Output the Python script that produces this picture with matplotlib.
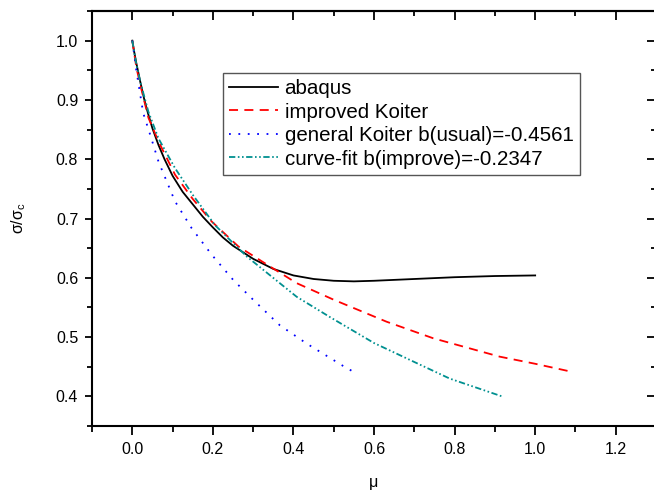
import matplotlib
matplotlib.use("Agg")
import matplotlib.pyplot as plt
from matplotlib.ticker import MultipleLocator

plt.rcParams['font.family'] = ['Liberation Sans', 'DejaVu Sans']
plt.rcParams['mathtext.fontset'] = 'custom'
plt.rcParams['mathtext.rm'] = 'Liberation Sans'

# values
abaqus_x = [0, 0.005, 0.01, 0.02, 0.03, 0.04, 0.05, 0.065, 0.08, 0.1, 0.125, 0.15, 0.175, 0.2, 0.225,
            0.25, 0.3, 0.35, 0.4, 0.45, 0.5, 0.55, 0.6, 0.7, 0.8, 0.9, 1.0]
abaqus_y = [1.0, 0.98, 0.962, 0.93, 0.9, 0.875, 0.852, 0.824, 0.8, 0.772, 0.745, 0.724, 0.703, 0.685, 0.668,
            0.654, 0.632, 0.615, 0.604, 0.598, 0.595, 0.594, 0.595, 0.598, 0.601, 0.603, 0.604]

improved_x = [0, 0.01, 0.02, 0.04, 0.065, 0.106, 0.15, 0.197, 0.263, 0.342, 0.408, 0.5, 0.631, 0.747, 0.912, 1.0, 1.094]
improved_y = [1.0, 0.955, 0.925, 0.87, 0.83, 0.774, 0.733, 0.695, 0.653, 0.619, 0.591, 0.563, 0.526, 0.498, 0.467, 0.455, 0.441]

general_x = [0, 0.01, 0.027, 0.045, 0.065, 0.106, 0.147, 0.197, 0.251, 0.3, 0.366, 0.433, 0.524, 0.545]
general_y = [1.0, 0.95, 0.878, 0.84, 0.796, 0.729, 0.684, 0.639, 0.596, 0.563, 0.52, 0.489, 0.451, 0.443]

fit_x = [0, 0.01, 0.02, 0.04, 0.065, 0.106, 0.15, 0.205, 0.284, 0.366, 0.408, 0.49, 0.6, 0.7, 0.788, 0.922]
fit_y = [1.0, 0.96, 0.93, 0.88, 0.835, 0.785, 0.74, 0.689, 0.636, 0.591, 0.568, 0.534, 0.49, 0.458, 0.43, 0.399]

fig = plt.figure(figsize=(6.54, 4.92), dpi=100)
ax = fig.add_axes([0.1407, 0.1341, 0.8624, 0.8435])

ax.plot(abaqus_x, abaqus_y, color='black', lw=1.3, label='abaqus')
ax.plot(improved_x, improved_y, color='#ff0000', lw=1.3, dashes=(5, 3.5), label='improved Koiter')
ax.plot(general_x, general_y, color='#0000ff', lw=1.3, dashes=(1, 4.2), label='general Koiter b(usual)=-0.4561')
ax.plot(fit_x, fit_y, color='#009090', lw=1.3, dashes=(3.5, 1.4, 0.9, 1.4, 0.9, 1.4), label='curve-fit b(improve)=-0.2347')

ax.set_xlim(-0.1, 1.3)
ax.set_ylim(0.35, 1.05)
ax.xaxis.set_major_locator(MultipleLocator(0.2))
ax.xaxis.set_minor_locator(MultipleLocator(0.1))
ax.yaxis.set_major_locator(MultipleLocator(0.1))
ax.yaxis.set_minor_locator(MultipleLocator(0.05))
ax.xaxis.set_major_formatter(lambda v, p: f"{v:.1f}")
ax.yaxis.set_major_formatter(lambda v, p: f"{v:.1f}")

ax.tick_params(axis='x', which='major', direction='out', length=6.5, width=1.3, labelsize=11.5, pad=5)
ax.tick_params(axis='x', which='minor', direction='out', length=4, width=1.3)
ax.tick_params(axis='y', which='major', direction='out', length=5, width=1.3, labelsize=11.5, pad=5)
ax.tick_params(axis='y', which='minor', direction='out', length=3.4, width=1.3)
for s in ax.spines.values():
    s.set_linewidth(1.5)

# mirrored ticks pointing inward on top and right
top = ax.secondary_xaxis('top')
top.xaxis.set_major_locator(MultipleLocator(0.2))
top.xaxis.set_minor_locator(MultipleLocator(0.1))
top.tick_params(which='major', direction='in', length=6.5, width=1.3, labeltop=False)
top.tick_params(which='minor', direction='in', length=3.6, width=1.3)
right = ax.secondary_yaxis('right')
right.yaxis.set_major_locator(MultipleLocator(0.1))
right.yaxis.set_minor_locator(MultipleLocator(0.05))
right.tick_params(which='major', direction='in', length=6.5, width=1.3, labelright=False)
right.tick_params(which='minor', direction='in', length=3.6, width=1.3)
for sa in (top, right):
    for s in sa.spines.values():
        s.set_linewidth(1.5)

ax.set_xlabel('μ', fontsize=11.5, labelpad=13)
ax.set_ylabel(r'σ/σ$_\mathregular{c}$', fontsize=11.5, labelpad=20)

leg = ax.legend(loc='upper left', bbox_to_anchor=(0.232, 0.851), fontsize=14.8,
                frameon=True, fancybox=False, edgecolor='#555555', framealpha=1,
                handlelength=2.4, handletextpad=0.3, labelspacing=0.22, borderpad=0.3,
                borderaxespad=0)
leg.get_frame().set_linewidth(1.0)

fig.savefig('out.png', dpi=100)
